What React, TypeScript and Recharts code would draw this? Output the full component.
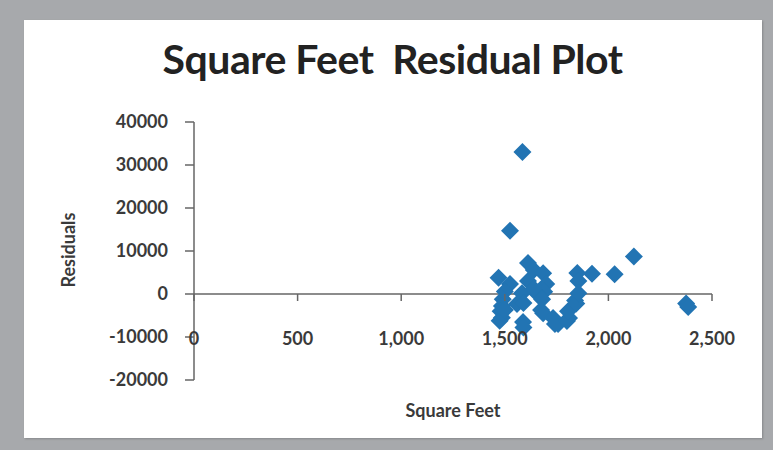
import React from "react";
import { ScatterChart, Scatter, XAxis, YAxis, ReferenceLine, Label } from "recharts";

// square feet vs. residuals
const sqft = [
  1585, 1525, 2123, 2030, 1921, 1850, 1855, 2375, 2385,
  1612, 1640, 1685, 1700, 1690, 1660,
  1470, 1525, 1500, 1583, 1612, 1640,
  1490, 1486, 1480, 1486, 1475, 1500,
  1559, 1590, 1588, 1590,
  1680, 1675, 1685, 1733, 1757, 1742, 1800, 1810, 1805, 1839, 1845, 1855,
];
const residuals = [
  33000, 14700, 8700, 4600, 4700, 4900, 3000, -2200, -3000,
  7200, 5600, 4800, 2300, 500, -100,
  3800, 2300, 600, 200, 3000, 1200,
  -1200, -2800, -4000, -5500, -6200, -3700,
  -2300, -2100, -6500, -7800,
  -1200, -3700, -4500, -5600, -7000, -7000, -6300, -5600, -4000, -1500, -2200, 200,
];

const xTicks = [0, 500, 1000, 1500, 2000, 2500];
const yTicks = [-20000, -10000, 0, 10000, 20000, 30000, 40000];

const data = sqft.map((x, i) => ({ x, y: residuals[i] }));

const W = 773;
const H = 450;
const PLOT_TOP = 122;
const PLOT_BOTTOM = 380;
const Y_MIN = -20000;
const Y_MAX = 40000;
const ZERO_OFFSET = ((PLOT_BOTTOM - PLOT_TOP) * (0 - Y_MIN)) / (Y_MAX - Y_MIN);

const BLUE = "#2274b3";
const AXIS = "#666";
const TEXT = "#3a3a3a";
const FONT = "Lato, 'Open Sans', sans-serif";

const fmt = (v: number) => v.toLocaleString("en-US");

function Diamond(props: any) {
  const { cx, cy } = props;
  const r = 9;
  return (
    <polygon
      points={`${cx},${cy - r} ${cx + r},${cy} ${cx},${cy + r} ${cx - r},${cy}`}
      fill={BLUE}
    />
  );
}

// x axis sits at y = 0, labels hang below it like Excel draws them
function XTick(props: any) {
  const { x, y, payload } = props;
  const axisY = y - ZERO_OFFSET;
  return (
    <g>
      <line x1={x} x2={x} y1={axisY} y2={axisY + 7} stroke={AXIS} strokeWidth={1.5} />
      <text x={x} y={axisY + 51} textAnchor="middle" fill={TEXT} fontFamily={FONT} fontWeight={700} fontSize={18}>
        {fmt(payload.value)}
      </text>
    </g>
  );
}

export default function App() {
  return (
    <div style={{ position: "fixed", left: 0, top: 0, width: W, height: H, background: "#a7a9ac" }}>
      <div
        style={{
          position: "absolute",
          left: 24,
          top: 20,
          width: 738,
          height: 418,
          background: "#fff",
          boxShadow: "1px 1px 2px rgba(0,0,0,0.2)",
        }}
      />
      <div
        style={{
          position: "absolute",
          left: 0,
          top: 34,
          width: 785,
          textAlign: "center",
          fontFamily: FONT,
          fontWeight: 700,
          fontSize: 41,
          letterSpacing: -0.5,
          color: "#222",
          whiteSpace: "pre",
        }}
      >
        {"Square Feet  Residual Plot"}
      </div>
      <div style={{ position: "absolute", left: 0, top: 0 }}>
        <ScatterChart width={W} height={H} margin={{ top: PLOT_TOP, right: 61, bottom: 0, left: 0 }}>
          <XAxis
            type="number"
            dataKey="x"
            domain={[0, 2500]}
            ticks={xTicks}
            axisLine={false}
            tickLine={false}
            tickSize={0}
            tickMargin={0}
            height={H - PLOT_BOTTOM}
            tick={<XTick />}
            interval={0}
          >
            <Label
              content={(p: any) => {
                const vb = p.viewBox;
                return (
                  <text x={vb.x + vb.width / 2} y={vb.y + 37} textAnchor="middle" fill={TEXT} fontFamily={FONT} fontWeight={700} fontSize={18}>
                    Square Feet
                  </text>
                );
              }}
            />
          </XAxis>
          <YAxis
            type="number"
            dataKey="y"
            domain={[Y_MIN, Y_MAX]}
            ticks={yTicks}
            width={194}
            axisLine={{ stroke: AXIS, strokeWidth: 1.5 }}
            tickLine={{ stroke: AXIS, strokeWidth: 1.5 }}
            tickSize={9}
            tickMargin={17}
            tick={{ fill: TEXT, fontFamily: FONT, fontWeight: 700, fontSize: 18 }}
            interval={0}
          >
            <Label
              content={(p: any) => {
                const vb = p.viewBox;
                const cx = 68;
                const cy = vb.y + vb.height / 2 - 1;
                return (
                  <text
                    x={cx}
                    y={cy}
                    transform={`rotate(-90, ${cx}, ${cy})`}
                    textAnchor="middle"
                    dominantBaseline="central"
                    fill={TEXT}
                    fontFamily={FONT}
                    fontWeight={700}
                    fontSize={18}
                  >
                    Residuals
                  </text>
                );
              }}
            />
          </YAxis>
          <ReferenceLine y={0} stroke={AXIS} strokeWidth={1.5} />
          <Scatter data={data} shape={<Diamond />} isAnimationActive={false} />
        </ScatterChart>
      </div>
    </div>
  );
}
